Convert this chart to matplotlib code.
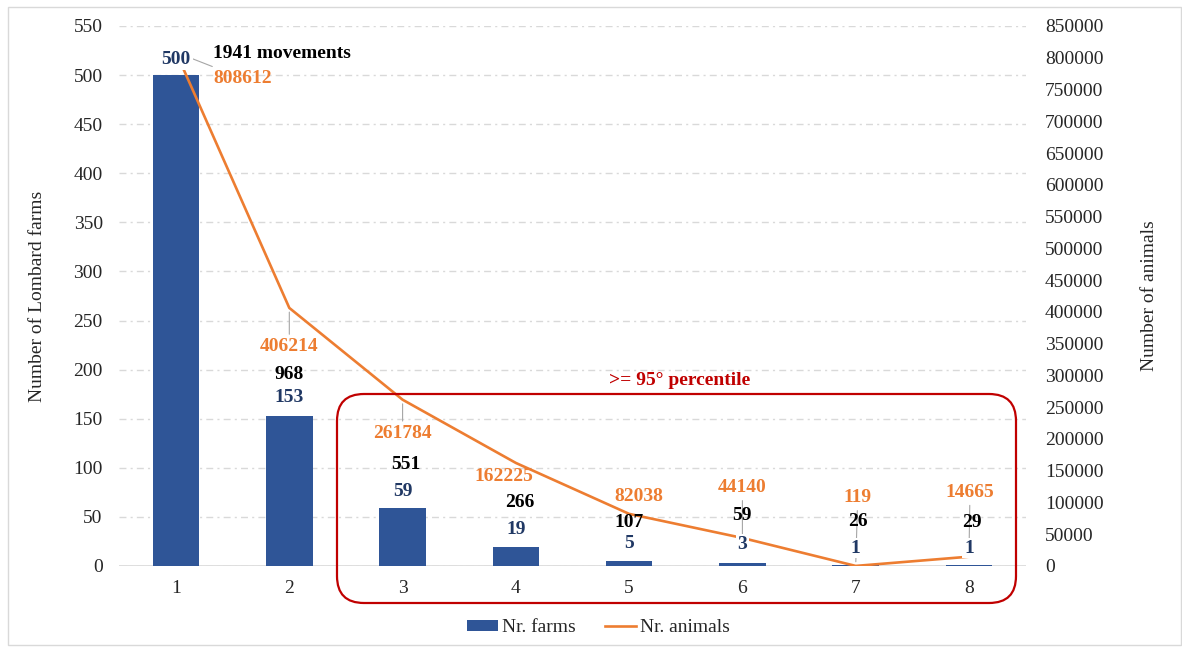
import matplotlib
matplotlib.use('Agg')
import matplotlib.pyplot as plt
from matplotlib.patches import FancyBboxPatch, Rectangle, Patch
from matplotlib.lines import Line2D
from matplotlib.transforms import IdentityTransform

# ---------------- data ----------------
categories = ['1', '2', '3', '4', '5', '6', '7', '8']
nr_farms = [500, 153, 59, 19, 5, 3, 1, 1]
nr_animals = [808612, 406214, 261784, 162225, 82038, 44140, 119, 14665]
nr_movements = [1941, 968, 551, 266, 107, 59, 26, 29]
left_ticks = list(range(0, 551, 50))
right_ticks = list(range(0, 850001, 50000))

# ---------------- style / layout ----------------
plt.rcParams['font.family'] = ['Liberation Serif', 'DejaVu Serif']
BAR_C = '#2F5597'
BAR_LBL_C = '#203864'
LINE_C = '#ED7D31'
GRID_C = '#D9D9D9'
TXT_C = '#262626'
FS = 14

W, H = 1182, 648
fig = plt.figure(figsize=(W / 100, H / 100), dpi=100)
ax_l, ax_r, ax_b, ax_t = 119.4, 1025.6, 566, 26
ax1 = fig.add_axes([ax_l / W, (H - ax_b) / H, (ax_r - ax_l) / W, (ax_b - ax_t) / H])
ax2 = ax1.twinx()

x = list(range(len(categories)))
ax1.bar(x, nr_farms, width=0.41, color=BAR_C, zorder=2)
ax2.plot(x, nr_animals, color=LINE_C, lw=1.9, zorder=3, solid_capstyle='butt')

ax1.set_xlim(-0.5, 7.5)
ax1.set_ylim(0, 550)
ax2.set_ylim(0, 850000)
ax1.set_yticks(left_ticks)
ax2.set_yticks(right_ticks)
ax1.set_xticks(x)
ax1.set_xticklabels(categories)
for a in (ax1, ax2):
    for s in a.spines.values():
        s.set_visible(False)
ax1.grid(axis='y', color=GRID_C, linestyle=(0, (5, 3, 1.5, 3)), lw=1, zorder=0)
ax1.set_axisbelow(True)
ax1.axhline(0, color=GRID_C, lw=1.2, zorder=1)
ax1.tick_params(axis='y', length=0, pad=12, labelsize=FS, colors=TXT_C)
ax1.tick_params(axis='x', length=0, pad=10, labelsize=FS, colors=TXT_C)
ax2.tick_params(axis='y', length=0, pad=14, labelsize=FS, colors=TXT_C)

fig.text(38 / W, 1 - 296 / H, 'Number of Lombard farms', rotation=90,
         ha='center', va='center', fontsize=FS, color=TXT_C)
fig.text(1150 / W, 1 - 296 / H, 'Number of animals', rotation=90,
         ha='center', va='center', fontsize=FS, color=TXT_C)

# ---------------- labels ----------------
bar_lbl_off = [16, 18, 17, 18, 18, 19, 17, 17]
for i, v in enumerate(nr_farms):
    ax2.annotate(str(v), xy=(i, v), xycoords=ax1.transData,
                 xytext=(0, bar_lbl_off[i]), textcoords='offset pixels',
                 ha='center', va='center', fontsize=FS, fontweight='bold',
                 color=BAR_LBL_C, zorder=6,
                 bbox=dict(boxstyle='square,pad=0.1', fc='white', ec='none'))

mov_off = [(37, 22), (0, 41), (3, 44), (4, 45), (0, 39), (0, 48), (2, 44), (3, 43)]
for i, v in enumerate(nr_movements):
    txt = f'{v} movements' if i == 0 else str(v)
    ha = 'left' if i == 0 else 'center'
    ax2.annotate(txt, xy=(i, nr_farms[i]), xycoords=ax1.transData,
                 xytext=mov_off[i], textcoords='offset pixels',
                 ha=ha, va='center', fontsize=FS, fontweight='bold',
                 color='black', zorder=5)

ani_off = [(37, -26), (0, -39), (0, -34), (-12, -14), (10, 17), (0, 50), (2, 68), (1, 64)]
ani_leader = [True, True, True, False, False, True, True, True]
for i, v in enumerate(nr_animals):
    ha = 'left' if i == 0 else 'center'
    kw = {}
    if ani_leader[i]:
        kw['arrowprops'] = dict(arrowstyle='-', color='#A6A6A6', lw=0.8,
                                shrinkA=1, shrinkB=3)
    ax2.annotate(str(v), xy=(i, v), xycoords=ax2.transData,
                 xytext=ani_off[i], textcoords='offset pixels',
                 ha=ha, va='center', fontsize=FS, fontweight='bold',
                 color=LINE_C, zorder=4, **kw)

# ---------------- highlight box ----------------
box = FancyBboxPatch((337, H - 603), 1016 - 337, 603 - 394,
                     boxstyle='round,pad=0,rounding_size=27',
                     transform=IdentityTransform(), fill=False,
                     ec='#C00000', lw=1.6, zorder=5)
fig.add_artist(box)
fig.text(680 / W, 1 - 380 / H, '>= 95° percentile', ha='center', va='center',
         fontsize=FS, fontweight='bold', color='#C00000')

# ---------------- frame ----------------
fig.add_artist(Rectangle((8 / W, 3 / H), (1181 - 8) / W, (641 - 3) / H,
                         transform=fig.transFigure, fill=False,
                         ec=GRID_C, lw=1))

# ---------------- legend ----------------
handles = [Patch(facecolor=BAR_C, edgecolor='none'),
           Line2D([0], [0], color=LINE_C, lw=1.9)]
fig.legend(handles, ['Nr. farms', 'Nr. animals'], loc='center',
           bbox_to_anchor=(598 / W, 20 / H), ncol=2, frameon=False,
           fontsize=FS, handlelength=1.6, handleheight=0.5,
           handletextpad=0.2, columnspacing=1.5, labelcolor=TXT_C)

fig.savefig('out.png', dpi=100)
